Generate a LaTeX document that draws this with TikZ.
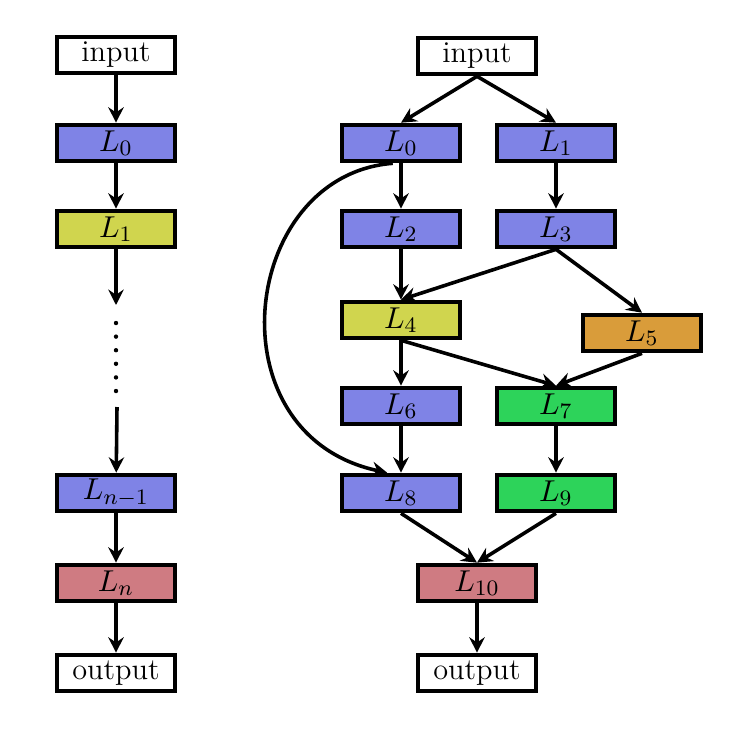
\documentclass[tikz,border=0pt]{standalone}
\usetikzlibrary{arrows.meta}
\definecolor{cblue}{HTML}{7F83E6}
\definecolor{cyel}{HTML}{D0D54E}
\definecolor{corange}{HTML}{D99C3A}
\definecolor{cgreen}{HTML}{2DD35A}
\definecolor{cred}{HTML}{CF7B82}
\begin{document}
\begin{tikzpicture}[x=0.363pt,y=-0.363pt,
  layer/.style={draw=black,line width=1.45pt,minimum width=42.8pt,minimum height=13.3pt,inner sep=0pt,font=\fontsize{11}{13}\selectfont},
  conn/.style={line width=1.3pt,-{Stealth[length=5.6pt,width=5.6pt,inset=1.9pt]}}]
\useasboundingbox (0,0) rectangle (748,750);
% left column
\node[layer,fill=white] (ain) at (116,55) {input};
\node[layer,fill=cblue] (a0) at (116,143) {$L_0$};
\node[layer,fill=cyel] (a1) at (116,229) {$L_1$};
\node[layer,fill=cblue] (an1) at (116,493) {$L_{n-1}$};
\node[layer,fill=cred] (an) at (116,583) {$L_n$};
\node[layer,fill=white] (aout) at (116,673) {output};
\coordinate (d1) at (116,305);
\coordinate (d2) at (117,407);
\draw[conn] (ain) -- (a0);
\draw[conn] (a0) -- (a1);
\draw[conn] (a1) -- (d1);
\foreach \yy in {323,336.6,350.2,363.8,377.4,391} \fill (116,\yy) circle[radius=0.8pt];
\draw[conn] (d2) -- (an1);
\draw[conn] (an1) -- (an);
\draw[conn] (an) -- (aout);
% right graph
\node[layer,fill=white] (in) at (477,56) {input};
\node[layer,fill=cblue] (l0) at (401,143) {$L_0$};
\node[layer,fill=cblue] (l1) at (556,143) {$L_1$};
\node[layer,fill=cblue] (l2) at (401,229) {$L_2$};
\node[layer,fill=cblue] (l3) at (556,229) {$L_3$};
\node[layer,fill=cyel] (l4) at (401,320) {$L_4$};
\node[layer,fill=corange] (l5) at (642,333) {$L_5$};
\node[layer,fill=cblue] (l6) at (401,406) {$L_6$};
\node[layer,fill=cgreen] (l7) at (556,406) {$L_7$};
\node[layer,fill=cblue] (l8) at (401,493) {$L_8$};
\node[layer,fill=cgreen] (l9) at (556,493) {$L_9$};
\node[layer,fill=cred] (l10) at (477,583) {$L_{10}$};
\node[layer,fill=white] (out) at (477,673) {output};
\draw[conn] (in.south) -- (l0.north);
\draw[conn] (in.south) -- (l1.north);
\draw[conn] (l0) -- (l2);
\draw[conn] (l1) -- (l3);
\draw[conn] (l2) -- (l4);
\draw[conn] (l3.south) -- (l4.north);
\draw[conn] (l3.south) -- (l5.north);
\draw[conn] (l4) -- (l6);
\draw[conn] (l4.south) -- (l7.north);
\draw[conn] (l5.south) -- (l7.north);
\draw[conn] (l6) -- (l8);
\draw[conn] (l7) -- (l9);
\draw[conn] (l8.south) -- (l10.north);
\draw[conn] (l9.south) -- (l10.north);
\draw[conn] (l10) -- (out);
\draw[conn] ([xshift=-3pt]l0.south) .. controls (240,175) and (210,435) .. ([xshift=-5pt]l8.north);
\end{tikzpicture}
\end{document}
